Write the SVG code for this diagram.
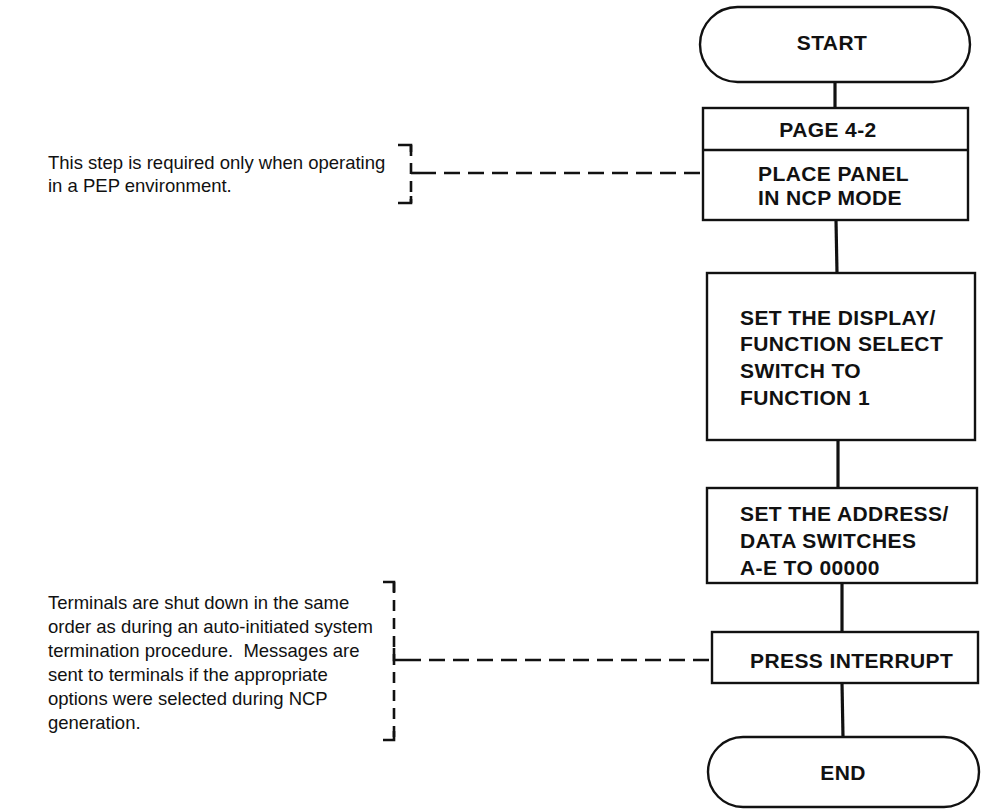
<svg xmlns="http://www.w3.org/2000/svg" width="981" height="810" viewBox="0 0 981 810">
<style>
.shape{fill:#fff;stroke:#111;stroke-width:2.4}
.lbl{font-family:"Liberation Sans",Arial,Helvetica,sans-serif;font-weight:bold;font-size:21px;letter-spacing:0.4px;fill:#111}
.note{font-family:"Liberation Sans",Arial,Helvetica,sans-serif;font-size:18.5px;fill:#111}
.flow{stroke:#111;stroke-width:3.2;fill:none}
.dash{stroke:#111;stroke-width:2.6;fill:none;stroke-dasharray:16 8}
.brk{stroke:#111;stroke-width:2.6;fill:none;stroke-dasharray:11 7}
.tick{stroke:#111;stroke-width:2.6;fill:none}
</style>
<rect width="981" height="810" fill="#fff"/>
<g id="connectors">
<line class="flow" x1="835" y1="82" x2="835" y2="108"/>
<line class="flow" x1="836" y1="220" x2="837" y2="273"/>
<line class="flow" x1="838" y1="440" x2="838" y2="488"/>
<line class="flow" x1="842" y1="583" x2="842" y2="632"/>
<line class="flow" x1="842" y1="683" x2="843" y2="737"/>
<line class="dash" x1="420" y1="173" x2="703" y2="173"/>
<line class="dash" x1="405" y1="660" x2="712" y2="660"/>
</g>
<g id="start">
<rect class="shape" x="700" y="7" width="270" height="75" rx="37.5" ry="37.5"/>
<text class="lbl" x="832" y="50" text-anchor="middle">START</text>
</g>
<g id="place-panel">
<rect class="shape" x="703" y="108" width="265" height="112"/>
<line class="shape" x1="703" y1="150" x2="968" y2="150"/>
<text class="lbl" x="828" y="137" text-anchor="middle">PAGE 4-2</text>
<text class="lbl" x="758" y="181">PLACE PANEL</text>
<text class="lbl" x="758" y="205">IN NCP MODE</text>
</g>
<g id="set-display">
<rect class="shape" x="707" y="273" width="268" height="167"/>
<text class="lbl" x="740" y="325">SET THE DISPLAY/</text>
<text class="lbl" x="740" y="351">FUNCTION SELECT</text>
<text class="lbl" x="740" y="378">SWITCH TO</text>
<text class="lbl" x="740" y="405">FUNCTION 1</text>
</g>
<g id="set-address">
<rect class="shape" x="707" y="488" width="270" height="95"/>
<text class="lbl" x="740" y="521">SET THE ADDRESS/</text>
<text class="lbl" x="740" y="548">DATA SWITCHES</text>
<text class="lbl" x="740" y="575">A-E TO 00000</text>
</g>
<g id="press-interrupt">
<rect class="shape" x="712" y="632" width="266" height="51"/>
<text class="lbl" x="750" y="668">PRESS INTERRUPT</text>
</g>
<g id="end">
<rect class="shape" x="708" y="737" width="271" height="70" rx="35" ry="35"/>
<text class="lbl" x="843" y="780" text-anchor="middle">END</text>
</g>
<g id="note-pep">
<text class="note" x="48" y="169">This step is required only when operating</text>
<text class="note" x="48" y="192">in a PEP environment.</text>
<line class="brk" x1="411" y1="145" x2="411" y2="203"/>
<polyline class="tick" points="398,145 411,145 411,152"/>
<polyline class="tick" points="411,196 411,203 398,203"/>
<line class="tick" x1="411" y1="173" x2="420" y2="173"/>
</g>
<g id="note-terminals">
<text class="note" x="48" y="609">Terminals are shut down in the same</text>
<text class="note" x="48" y="633">order as during an auto-initiated system</text>
<text class="note" x="48" y="657" xml:space="preserve">termination procedure.  Messages are</text>
<text class="note" x="48" y="681">sent to terminals if the appropriate</text>
<text class="note" x="48" y="705">options were selected during NCP</text>
<text class="note" x="48" y="729">generation.</text>
<line class="brk" x1="394" y1="582" x2="394" y2="740"/>
<polyline class="tick" points="383,582 394,582 394,592"/>
<polyline class="tick" points="394,731 394,740 383,740"/>
<polyline class="tick" points="394,648 394,660 405,660"/>
</g>
</svg>
